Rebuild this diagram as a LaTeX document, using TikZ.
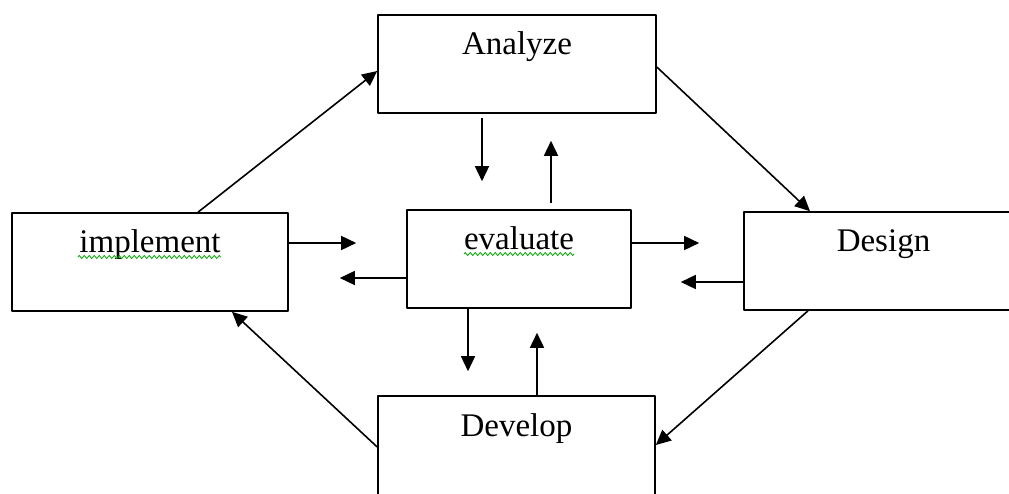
\documentclass[tikz,border=0pt]{standalone}
\usepackage{fontspec}
\setmainfont{Liberation Serif}
\usetikzlibrary{arrows.meta,decorations.pathmorphing}
\begin{document}
\begin{tikzpicture}[x=1pt, y=1pt, line join=round,
        >={Triangle[length=15pt,width=14pt]},
        box/.style={draw, line width=1.6pt, inner sep=0pt, minimum width=278pt,
            text height=40pt, text depth=58pt,
            font=\fontsize{33}{40}\selectfont},
        arr/.style={->, line width=1.6pt},
        squiggle/.style={draw=green!65!black, line width=0.8pt,
            decorate, decoration={zigzag, segment length=5pt, amplitude=1.5pt}}]
        \useasboundingbox (0,0) rectangle (1009,493);
        %\draw[gray!0] (0,0) grid[step=50] (1009,493);
        \node[box] (analyze) at (517,429) {Analyze};
        \node[box, minimum width=276pt] (implement) at (150,231) {implement};
        \node[box, minimum width=224pt] (evaluate) at (519,234) {evaluate};
        \node[box, minimum width=277pt, text depth=70pt] (develop) at (516.5,42) {Develop};
        \node[box, minimum width=279pt] (design) at (883.5,232) {Design};
        % outer cycle
        \draw[arr] ([xshift=48pt]implement.north) -- ([yshift=-7pt]analyze.west);
        \draw[arr] ([yshift=-3pt]analyze.east) -- ([xshift=-73.5pt]design.north);
        \draw[arr] ([xshift=-75.5pt]design.south) -- ([yshift=6pt]develop.east);
        \draw[arr] ([yshift=4pt]develop.west) -- ([xshift=82pt]implement.south);
        % to and from evaluate
        \draw[arr] ([xshift=-35pt,yshift=-4pt]analyze.south) -- ([xshift=-37pt,yshift=28pt]evaluate.north);
        \draw[arr] ([xshift=32pt,yshift=6pt]evaluate.north) -- ([xshift=34pt,yshift=-27pt]analyze.south);
        \draw[arr] ([xshift=-51pt]evaluate.south) -- ([xshift=-48.5pt,yshift=24pt]develop.north);
        \draw[arr] ([xshift=20.5pt]develop.north) -- ([xshift=18pt,yshift=-24pt]evaluate.south);
        \draw[arr] ([yshift=19pt]implement.east) -- ([xshift=-50pt,yshift=16pt]evaluate.west);
        \draw[arr] ([yshift=-19pt]evaluate.west) -- ([xshift=51pt,yshift=-16pt]implement.east);
        \draw[arr] ([yshift=16pt]evaluate.east) -- ([xshift=-44pt,yshift=18pt]design.west);
        \draw[arr] ([yshift=-21pt]design.west) -- ([xshift=49pt,yshift=-23pt]evaluate.east);
        % spelling marks
        \path[squiggle] ([xshift=-72pt,yshift=-4pt]implement.base) -- ([xshift=71pt,yshift=-4pt]implement.base);
        \path[squiggle] ([xshift=-55pt,yshift=-4pt]evaluate.base) -- ([xshift=55pt,yshift=-4pt]evaluate.base);
\end{tikzpicture}
\end{document}
